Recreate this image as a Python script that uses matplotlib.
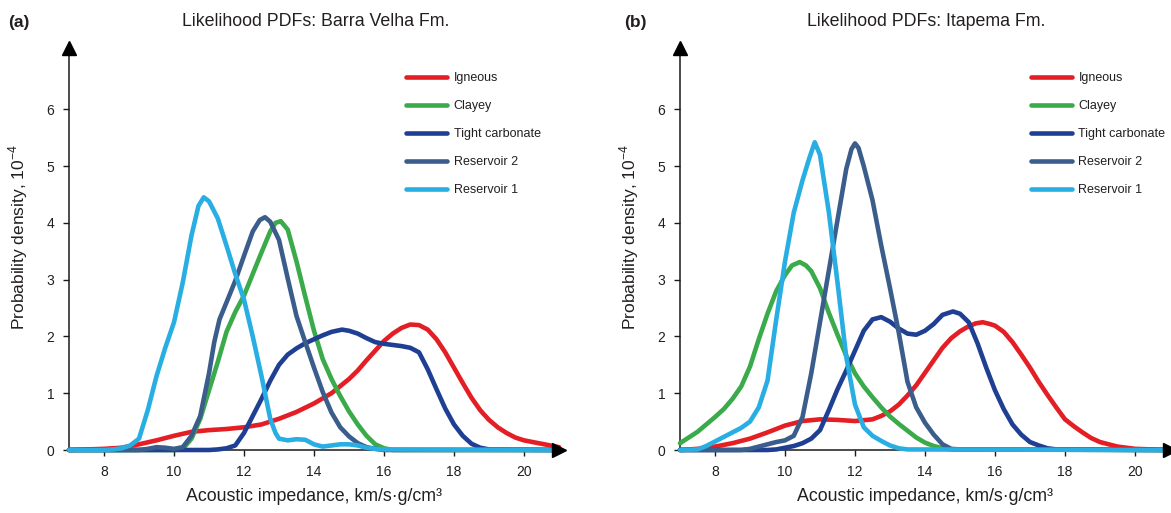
import matplotlib
matplotlib.use("Agg")
import matplotlib.pyplot as plt

plt.rcParams['font.family'] = ['Liberation Sans', 'DejaVu Sans']
plt.rcParams['mathtext.fontset'] = 'custom'
plt.rcParams['mathtext.rm'] = 'Liberation Sans'

# ---- data (x: km/s*g/cm3, y: 1e-4) ----
labels = ['Igneous', 'Clayey', 'Tight carbonate', 'Reservoir 2', 'Reservoir 1']
colors = ['#e31e24', '#3aaa4a', '#1f3f93', '#3b5d8c', '#29aee3']

# (a) Barra Velha Fm.
bv_igneous_x = [7.0, 7.5, 8.0, 8.5, 9.0, 9.5, 10.0, 10.5, 11.0, 11.5, 12.0, 12.5, 13.0, 13.5,
                14.0, 14.5, 15.0, 15.25, 15.5, 15.75, 16.0, 16.25, 16.5, 16.75, 17.0, 17.25,
                17.5, 17.75, 18.0, 18.25, 18.5, 18.75, 19.0, 19.25, 19.5, 19.75, 20.0, 20.5, 21.0]
bv_igneous_y = [0.0, 0.01, 0.02, 0.04, 0.1, 0.17, 0.25, 0.32, 0.35, 0.37, 0.4, 0.45, 0.55, 0.67,
                0.82, 1.0, 1.25, 1.4, 1.58, 1.75, 1.92, 2.05, 2.15, 2.21, 2.2, 2.12,
                1.95, 1.72, 1.45, 1.18, 0.92, 0.7, 0.53, 0.4, 0.3, 0.22, 0.17, 0.11, 0.05]

bv_clayey_x = [7.0, 10.0, 10.25, 10.5, 10.75, 11.0, 11.25, 11.5, 11.75, 12.0, 12.25, 12.5, 12.75,
               12.9, 13.05, 13.25, 13.5, 13.75, 14.0, 14.25, 14.5, 14.75, 15.0, 15.25, 15.5,
               15.75, 16.0, 16.25, 21.0]
bv_clayey_y = [0.0, 0.0, 0.02, 0.2, 0.55, 1.05, 1.55, 2.08, 2.43, 2.72, 3.1, 3.48, 3.85,
               4.0, 4.03, 3.88, 3.32, 2.7, 2.1, 1.6, 1.25, 0.95, 0.68, 0.45, 0.25,
               0.1, 0.03, 0.0, 0.0]

bv_tight_x = [7.0, 11.0, 11.25, 11.5, 11.75, 12.0, 12.25, 12.5, 12.75, 13.0, 13.25, 13.5, 13.75,
              14.0, 14.25, 14.5, 14.8, 15.0, 15.25, 15.5, 15.75, 16.0, 16.25, 16.5, 16.75,
              17.0, 17.25, 17.5, 17.75, 18.0, 18.25, 18.5, 18.75, 19.0, 21.0]
bv_tight_y = [0.0, 0.0, 0.01, 0.03, 0.08, 0.3, 0.6, 0.9, 1.22, 1.5, 1.68, 1.79, 1.88,
              1.95, 2.02, 2.08, 2.12, 2.1, 2.05, 1.97, 1.9, 1.87, 1.85, 1.83, 1.8,
              1.72, 1.42, 1.07, 0.73, 0.45, 0.25, 0.11, 0.04, 0.01, 0.0]

bv_res2_x = [7.0, 9.0, 9.25, 9.5, 9.75, 10.0, 10.25, 10.5, 10.75, 11.0, 11.15, 11.3, 11.5, 11.75,
             12.0, 12.25, 12.45, 12.6, 12.75, 13.0, 13.25, 13.5, 13.75, 14.0, 14.25, 14.5, 14.75,
             15.0, 15.25, 15.5, 15.75, 16.0, 21.0]
bv_res2_y = [0.0, 0.0, 0.02, 0.05, 0.04, 0.02, 0.05, 0.25, 0.6, 1.35, 1.9, 2.3, 2.6, 2.98,
             3.42, 3.85, 4.05, 4.1, 4.02, 3.7, 3.02, 2.36, 1.9, 1.45, 1.02, 0.66, 0.4,
             0.24, 0.12, 0.05, 0.02, 0.0, 0.0]

bv_res1_x = [7.0, 8.0, 8.25, 8.5, 8.75, 9.0, 9.25, 9.5, 9.75, 10.0, 10.25, 10.5, 10.7, 10.85,
             11.0, 11.25, 11.5, 11.75, 12.0, 12.25, 12.5, 12.75, 12.9, 13.0, 13.25, 13.5, 13.75,
             14.0, 14.25, 14.5, 14.75, 15.0, 15.25, 15.5, 15.75, 16.0, 21.0]
bv_res1_y = [0.0, 0.0, 0.01, 0.03, 0.08, 0.2, 0.7, 1.3, 1.8, 2.25, 2.95, 3.78, 4.3, 4.45,
             4.38, 4.08, 3.6, 3.1, 2.65, 2.0, 1.3, 0.55, 0.3, 0.2, 0.17, 0.19, 0.18,
             0.1, 0.06, 0.08, 0.1, 0.1, 0.08, 0.04, 0.02, 0.01, 0.0]

# (b) Itapema Fm.
it_igneous_x = [7.0, 7.5, 8.0, 8.5, 9.0, 9.5, 10.0, 10.5, 11.0, 11.5, 12.0, 12.5, 12.75, 13.0,
                13.25, 13.5, 13.75, 14.0, 14.25, 14.5, 14.75, 15.0, 15.25, 15.45, 15.65, 15.85,
                16.0, 16.25, 16.5, 16.75, 17.0, 17.25, 17.5, 17.75, 18.0, 18.25, 18.5, 18.75,
                19.0, 19.25, 19.5, 20.0, 20.5, 21.0]
it_igneous_y = [0.0, 0.02, 0.06, 0.12, 0.2, 0.31, 0.43, 0.51, 0.54, 0.53, 0.51, 0.54, 0.6, 0.68,
                0.8, 0.96, 1.14, 1.36, 1.58, 1.8, 1.97, 2.09, 2.18, 2.23, 2.25, 2.22,
                2.19, 2.08, 1.9, 1.68, 1.45, 1.2, 0.97, 0.75, 0.54, 0.42, 0.31, 0.21,
                0.14, 0.1, 0.06, 0.02, 0.01, 0.0]

it_clayey_x = [7.0, 7.25, 7.5, 7.75, 8.0, 8.25, 8.5, 8.75, 9.0, 9.25, 9.5, 9.75, 10.0, 10.2,
               10.42, 10.6, 10.75, 11.0, 11.25, 11.5, 11.75, 12.0, 12.25, 12.5, 12.75, 13.0,
               13.25, 13.5, 13.75, 14.0, 14.25, 14.5, 14.75, 21.0]
it_clayey_y = [0.12, 0.22, 0.32, 0.45, 0.58, 0.72, 0.9, 1.12, 1.47, 1.95, 2.4, 2.8, 3.08, 3.25,
               3.31, 3.25, 3.15, 2.85, 2.42, 2.03, 1.66, 1.35, 1.12, 0.93, 0.75, 0.59,
               0.46, 0.34, 0.22, 0.13, 0.07, 0.03, 0.01, 0.0]

it_tight_x = [7.0, 9.5, 9.75, 10.0, 10.25, 10.5, 10.75, 11.0, 11.25, 11.5, 11.75, 12.0, 12.25,
              12.5, 12.75, 13.0, 13.25, 13.5, 13.75, 14.0, 14.25, 14.5, 14.8, 15.0, 15.25,
              15.5, 15.75, 16.0, 16.25, 16.5, 16.75, 17.0, 17.25, 17.5, 17.75, 21.0]
it_tight_y = [0.0, 0.0, 0.01, 0.04, 0.07, 0.12, 0.2, 0.35, 0.7, 1.07, 1.4, 1.75, 2.1,
              2.3, 2.34, 2.26, 2.14, 2.05, 2.03, 2.1, 2.22, 2.38, 2.44, 2.4, 2.25,
              1.88, 1.45, 1.05, 0.72, 0.45, 0.27, 0.14, 0.08, 0.03, 0.01, 0.0]

it_res2_x = [7.0, 8.75, 9.0, 9.25, 9.5, 9.75, 10.0, 10.25, 10.5, 10.75, 11.0, 11.25, 11.5,
             11.75, 11.9, 12.0, 12.1, 12.25, 12.5, 12.75, 13.0, 13.25, 13.5, 13.75, 14.0,
             14.25, 14.5, 14.75, 15.0, 21.0]
it_res2_y = [0.0, 0.0, 0.02, 0.06, 0.1, 0.14, 0.17, 0.25, 0.58, 1.35, 2.25, 3.15, 4.05,
             4.95, 5.3, 5.4, 5.32, 5.0, 4.4, 3.6, 2.85, 2.07, 1.2, 0.75, 0.48,
             0.27, 0.1, 0.02, 0.01, 0.0]

it_res1_x = [7.0, 7.5, 7.75, 8.0, 8.25, 8.5, 8.75, 9.0, 9.25, 9.5, 9.75, 10.0, 10.25, 10.5,
             10.7, 10.85, 11.0, 11.25, 11.5, 11.75, 12.0, 12.25, 12.5, 12.75, 13.0, 13.25,
             13.5, 21.0]
it_res1_y = [0.0, 0.01, 0.07, 0.15, 0.23, 0.31, 0.39, 0.5, 0.75, 1.22, 2.3, 3.32, 4.18, 4.75,
             5.15, 5.42, 5.2, 4.2, 2.95, 1.64, 0.8, 0.4, 0.25, 0.16, 0.08, 0.03,
             0.01, 0.0]

xticks = [8, 10, 12, 14, 16, 18, 20]
yticks = [0, 1, 2, 3, 4, 5, 6]

TEXT = '#231f20'


def style_axes(ax):
    ax.set_xlim(7, 21)
    ax.set_ylim(0, 7.08)
    for s in ['top', 'right']:
        ax.spines[s].set_visible(False)
    for s in ['left', 'bottom']:
        ax.spines[s].set_linewidth(1.1)
        ax.spines[s].set_color('#1a1a1a')
    ax.set_xticks(xticks)
    ax.set_yticks(yticks)
    ax.tick_params(direction='out', length=4.5, width=1.0, labelsize=10,
                   pad=6, colors='#1a1a1a', labelcolor=TEXT)
    # arrow heads at the end of both axes
    ax.plot(1, 0, '>', color='#000000', ms=9.5, transform=ax.transAxes,
            clip_on=False, zorder=5)
    ax.plot(0, 1, '^', color='#000000', ms=9.5, transform=ax.transAxes,
            clip_on=False, zorder=5)
    ax.set_xlabel('Acoustic impedance, km/s\u00b7g/cm\u00b3', fontsize=12.8, color=TEXT)
    ax.xaxis.set_label_coords(0.5, -0.095)
    ax.set_ylabel(r'Probability density, 10$^{\mathregular{-4}}$', fontsize=12.5, color=TEXT)
    ax.yaxis.set_label_coords(-0.08, 0.53)


def main():
    W, H = 1171, 513
    fig = plt.figure(figsize=(W / 100, H / 100), dpi=100)

    ax_a = fig.add_axes([69 / W, 63 / H, 490 / W, 402 / H])
    ax_b = fig.add_axes([680 / W, 63 / H, 490 / W, 402 / H])

    panel_a = [(bv_igneous_x, bv_igneous_y), (bv_clayey_x, bv_clayey_y),
               (bv_tight_x, bv_tight_y), (bv_res2_x, bv_res2_y), (bv_res1_x, bv_res1_y)]
    panel_b = [(it_igneous_x, it_igneous_y), (it_clayey_x, it_clayey_y),
               (it_tight_x, it_tight_y), (it_res2_x, it_res2_y), (it_res1_x, it_res1_y)]

    for ax, panel, leg_x in [(ax_a, panel_a, 406), (ax_b, panel_b, 1031)]:
        for (xs, ys), lab, col in zip(panel, labels, colors):
            ax.plot(xs, ys, color=col, lw=3.3, label=lab, clip_on=False,
                    solid_joinstyle='round', solid_capstyle='round', zorder=3)
        style_axes(ax)
        leg = ax.legend(loc='upper left', bbox_to_anchor=(leg_x / W, 1 - 72 / H),
                        bbox_transform=fig.transFigure, frameon=False, fontsize=9,
                        handlelength=3.3, handletextpad=0.5, labelspacing=1.28,
                        borderpad=0, borderaxespad=0)
        for t in leg.get_texts():
            t.set_color(TEXT)

    # titles and panel letters
    fig.text(316 / W, 1 - 22 / H, 'Likelihood PDFs: Barra Velha Fm.', ha='center',
             va='center', fontsize=12.8, color=TEXT)
    fig.text(926 / W, 1 - 22 / H, 'Likelihood PDFs: Itapema Fm.', ha='center',
             va='center', fontsize=12.8, color=TEXT)
    fig.text(8 / W, 1 - 22 / H, '(a)', ha='left', va='center', fontsize=12.5,
             fontweight='bold', color=TEXT)
    fig.text(624 / W, 1 - 22 / H, '(b)', ha='left', va='center', fontsize=12.5,
             fontweight='bold', color=TEXT)

    fig.savefig('out.png', dpi=100)


if __name__ == '__main__':
    main()
